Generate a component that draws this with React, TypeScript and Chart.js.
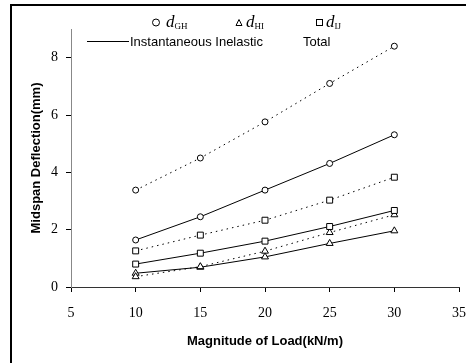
import React, { useEffect, useRef } from "react";
import { Chart, registerables } from "chart.js";

Chart.register(...registerables);

const loads = [10, 15, 20, 25, 30];
const ghTotal = [3.38, 4.5, 5.76, 7.1, 8.4];
const ghInst = [1.64, 2.45, 3.38, 4.31, 5.31];
const ijTotal = [1.26, 1.81, 2.33, 3.03, 3.83];
const ijInst = [0.8, 1.18, 1.6, 2.11, 2.67];
const hiTotal = [0.36, 0.71, 1.25, 1.9, 2.52];
const hiInst = [0.48, 0.69, 1.05, 1.52, 1.96];
const yTicks = [0, 2, 4, 6, 8];
const xTicks = [5, 10, 15, 20, 25, 30, 35];

const toPts = (ys: number[]) => loads.map((x, i) => ({ x, y: ys[i] }));

const frameAndLegend = {
  id: "frameAndLegend",
  afterDraw(chart: any) {
    const ctx = chart.ctx;
    ctx.save();
    // frame
    ctx.strokeStyle = "#000";
    ctx.lineWidth = 2;
    ctx.beginPath();
    ctx.moveTo(11, 363);
    ctx.lineTo(11, 5);
    ctx.lineTo(466, 5);
    ctx.stroke();
    // legend row 1
    ctx.lineWidth = 1;
    ctx.strokeStyle = "#000";
    ctx.fillStyle = "#fff";
    ctx.beginPath();
    ctx.arc(156, 22.5, 3.5, 0, Math.PI * 2);
    ctx.fill();
    ctx.stroke();
    ctx.beginPath();
    ctx.moveTo(236, 25.5);
    ctx.lineTo(242, 25.5);
    ctx.lineTo(239, 19.5);
    ctx.closePath();
    ctx.stroke();
    ctx.strokeRect(316.5, 19.5, 6, 6);
    ctx.fillStyle = "#000";
    ctx.textBaseline = "alphabetic";
    ctx.textAlign = "left";
    const sym = (x: number, sub: string) => {
      ctx.font = "italic 17px 'Liberation Serif', serif";
      ctx.fillText("d", x, 27);
      const w = ctx.measureText("d").width;
      ctx.font = "9px 'Liberation Serif', serif";
      ctx.fillText(sub, x + w, 29);
    };
    sym(166, "GH");
    sym(246, "HI");
    sym(326, "IJ");
    // legend row 2
    ctx.beginPath();
    ctx.moveTo(87, 41.5);
    ctx.lineTo(129, 41.5);
    ctx.stroke();
    ctx.font = "13px 'Liberation Sans', Arial, sans-serif";
    ctx.fillText("Instantaneous Inelastic", 130, 46);
    ctx.fillText("Total", 303, 46);
    ctx.restore();
  },
};

export default function App() {
  const ref = useRef<HTMLCanvasElement>(null);
  useEffect(() => {
    const mk = (label: string, ys: number[], style: string, dotted: boolean, r: number) => ({
      label,
      data: toPts(ys),
      borderColor: "#000",
      backgroundColor: "#fff",
      borderWidth: 1,
      borderDash: dotted ? [1.5, 4] : [],
      pointStyle: style,
      pointRadius: r,
      pointBorderWidth: 1,
      pointBorderColor: "#000",
      pointBackgroundColor: "#fff",
      tension: 0,
      fill: false,
    });
    const chart = new Chart(ref.current!, {
      type: "line",
      data: {
        datasets: [
          mk("GH total", ghTotal, "circle", true, 3),
          mk("GH inst", ghInst, "circle", false, 3),
          mk("IJ total", ijTotal, "rect", true, 4.2),
          mk("IJ inst", ijInst, "rect", false, 4.2),
          mk("HI total", hiTotal, "triangle", true, 4),
          mk("HI inst", hiInst, "triangle", false, 4),
        ],
      },
      options: {
        animation: false,
        responsive: false,
        devicePixelRatio: 1,
        layout: { padding: { left: 0, right: 7, top: 29, bottom: 0 } },
        plugins: { legend: { display: false }, tooltip: { enabled: false } },
        scales: {
          x: {
            type: "linear",
            min: 5,
            max: 35,
            afterBuildTicks: (axis: any) => {
              axis.ticks = xTicks.map((v) => ({ value: v }));
            },
            afterFit: (s: any) => {
              s.height = 76;
              s.paddingLeft = 0;
              s.paddingRight = 0;
            },
            grid: { display: true, drawOnChartArea: false, drawTicks: true, tickLength: 5, color: "#000" },
            border: { display: true, color: "#333", width: 1 },
            ticks: {
              padding: 13,
              color: "#000",
              font: { family: "'Liberation Serif', serif", size: 14 },
              maxRotation: 0,
            },
            title: {
              display: true,
              text: "Magnitude of Load(kN/m)",
              color: "#000",
              font: { family: "'Liberation Sans', Arial, sans-serif", size: 13, weight: "bold" },
              padding: { top: 0, bottom: 14 },
            },
          },
          y: {
            type: "linear",
            min: 0,
            max: 9,
            afterBuildTicks: (axis: any) => {
              axis.ticks = yTicks.map((v) => ({ value: v }));
            },
            afterFit: (s: any) => {
              s.width = 71;
              s.paddingTop = 0;
              s.paddingBottom = 0;
            },
            grid: { display: true, drawOnChartArea: false, drawTicks: true, tickLength: 5, color: "#000" },
            border: { display: true, color: "#888", width: 1 },
            ticks: {
              padding: 8,
              color: "#000",
              font: { family: "'Liberation Serif', serif", size: 14 },
            },
            title: {
              display: true,
              text: "Midspan Deflection(mm)",
              color: "#000",
              font: { family: "'Liberation Sans', Arial, sans-serif", size: 13, weight: "bold" },
              padding: { top: 29, bottom: 0 },
            },
          },
        },
      },
      plugins: [frameAndLegend],
    } as any);
    return () => chart.destroy();
  }, []);
  return (
    <div style={{ position: "absolute", left: 0, top: 0, width: 466, height: 363, background: "#fff" }}>
      <canvas ref={ref} width={466} height={363} style={{ display: "block" }} />
    </div>
  );
}
